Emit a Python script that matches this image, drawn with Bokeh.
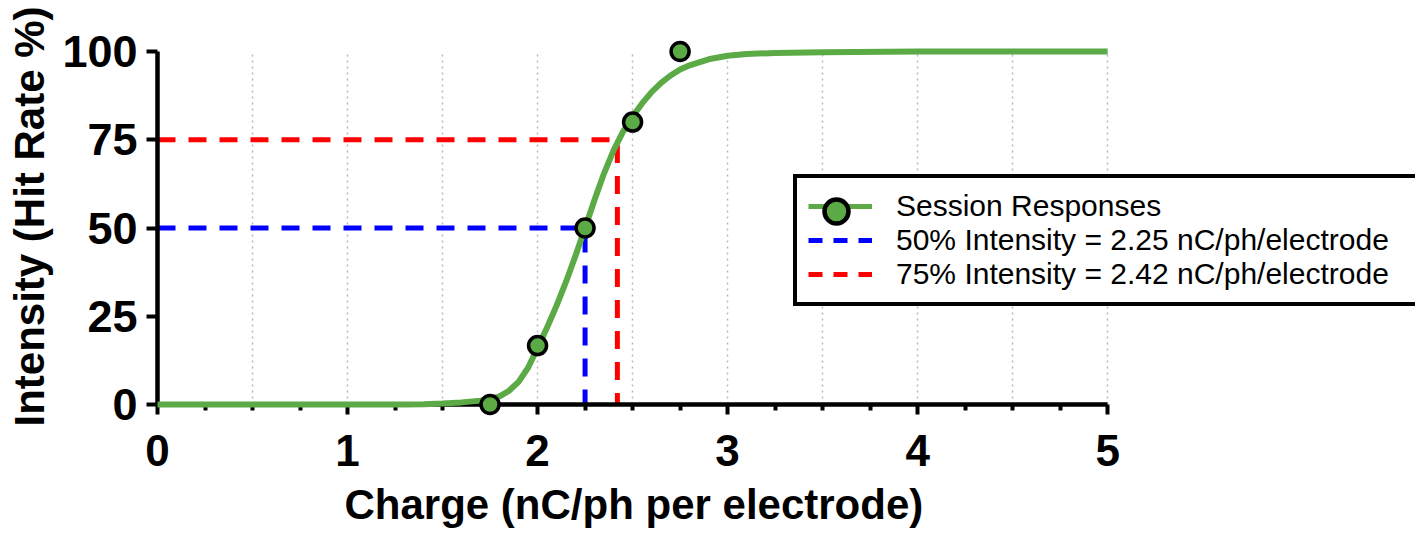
from bokeh.plotting import figure
from bokeh.models import Range1d, FixedTicker, Legend, LegendItem, Title
from bokeh.embed import file_html
from bokeh.resources import INLINE

NAN = float("nan")

# ---- data ----
resp_x = [1.75, 2.0, 2.25, 2.5, 2.75]
resp_y = [0.0, 16.7, 50.0, 80.0, 100.0]

fit_x = [0.0, 1.0, 1.3, 1.4, 1.5, 1.6, 1.7, 1.75, 1.8, 1.85, 1.9, 1.95, 2.0,
         2.05, 2.1, 2.15, 2.2, 2.25, 2.3, 2.35, 2.4, 2.45, 2.5, 2.55, 2.6,
         2.65, 2.7, 2.75, 2.8, 2.9, 3.0, 3.1, 3.25, 3.5, 4.0, 5.0]
fit_y = [0.0, 0.0, 0.0, 0.1, 0.3, 0.6, 1.1, 1.6, 2.3, 3.9, 6.4, 10.4, 16.0,
         21.8, 28.0, 34.8, 42.2, 50.0, 58.0, 65.5, 72.0, 77.3, 81.6, 85.3, 88.5,
         91.1, 93.2, 94.9, 96.1, 97.8, 98.8, 99.3, 99.6, 99.8, 100.0, 100.0]

x50, y50 = 2.25, 50.0
x75, y75 = 2.42, 75.0

x_ticks = [0, 1, 2, 3, 4, 5]
x_minor = [0.25, 0.5, 0.75, 1.25, 1.5, 1.75, 2.25, 2.5, 2.75,
           3.25, 3.5, 3.75, 4.25, 4.5, 4.75]
x_grid = [0.5, 1.0, 1.5, 2.0, 2.5, 3.0, 3.5, 4.0, 4.5, 5.0]
y_ticks = [0, 25, 50, 75, 100]

label_resp = "Session Responses"
label_50 = "50% Intensity = 2.25 nC/ph/electrode"
label_75 = "75% Intensity = 2.42 nC/ph/electrode"
x_title = "Charge (nC/ph per electrode)"
y_title = "Intensity (Hit Rate %)"

GREEN = "#5BAA46"
BLUE = "#0000FF"
RED = "#FF0000"
FONT = "Liberation Sans"

# frame extends past x=5 so that the legend (which overhangs the axis) is not clipped
X_VIEW_END = 6.62

p = figure(width=1415, height=541, output_backend="svg", toolbar_location=None,
           x_range=Range1d(0, X_VIEW_END), y_range=Range1d(0, 100),
           min_border_left=156, min_border_right=0,
           min_border_top=51, min_border_bottom=137)
p.outline_line_color = None
p.background_fill_color = "white"

# grid
p.ygrid.visible = False
p.xgrid.ticker = FixedTicker(ticks=x_grid)
p.xgrid.grid_line_color = "#b8b8b8"
p.xgrid.grid_line_width = 1.5
p.xgrid.grid_line_dash = "2 4"

# x axis
xa = p.xaxis[0]
xa.ticker = FixedTicker(ticks=x_ticks, minor_ticks=x_minor)
xa.bounds = (0, 5)
xa.axis_line_width = 4.5
xa.axis_line_color = "black"
xa.major_tick_line_width = 4
xa.minor_tick_line_width = 4
xa.major_tick_out = 10
xa.major_tick_in = 0
xa.minor_tick_out = 6
xa.minor_tick_in = 0
xa.major_label_text_font = FONT
xa.major_label_text_font_style = "bold"
xa.major_label_text_font_size = "44px"
xa.major_label_text_color = "black"
xa.major_label_standoff = 20

xt = Title(text=x_title, align="left", offset=187, standoff=24,
           vertical_align="top",
           text_font=FONT, text_font_style="bold", text_font_size="42px",
           text_color="black")
p.add_layout(xt, "below")

# y axis
ya = p.yaxis[0]
ya.ticker = FixedTicker(ticks=y_ticks, minor_ticks=[])
ya.bounds = (0, 100)
ya.axis_line_width = 4.5
ya.axis_line_color = "black"
ya.major_tick_line_width = 4
ya.major_tick_out = 11
ya.major_tick_in = 0
ya.minor_tick_out = 0
ya.minor_tick_in = 0
ya.major_label_text_font = FONT
ya.major_label_text_font_style = "bold"
ya.major_label_text_font_size = "45px"
ya.major_label_text_color = "black"
ya.major_label_standoff = 9

yt = Title(text=y_title, align="left", offset=-22, standoff=10,
           vertical_align="top",
           text_font=FONT, text_font_style="bold", text_font_size="42px",
           text_color="black")
p.add_layout(yt, "left")

# reference dashed lines (50% and 75%)
p.line([0, x50, x50], [y50, y50, 0], line_color=BLUE, line_width=5,
       line_dash="18 13")
p.line([0, x75, x75], [y75, y75, 0], line_color=RED, line_width=5,
       line_dash="18 13")

# fitted curve and responses (above the axes)
p.line(fit_x, fit_y, line_color=GREEN, line_width=6, level="overlay")
p.scatter(resp_x, resp_y, size=18, fill_color=GREEN, line_color="black",
          line_width=3.5, level="overlay")

# legend-only renderers (NaN data, nothing drawn in the plot)
lg_line = p.line(x=[NAN], y=[NAN], line_color=GREEN, line_width=5)
lg_mark = p.scatter(x=[NAN], y=[NAN], fill_color=GREEN, line_color="black",
                    line_width=4.5)
lg_50 = p.line(x=[NAN], y=[NAN], line_color=BLUE, line_width=5, line_dash="14 11")
lg_75 = p.line(x=[NAN], y=[NAN], line_color=RED, line_width=5, line_dash="14 11")

legend = Legend(items=[LegendItem(label=label_resp, renderers=[lg_line]),
                       LegendItem(label=label_50, renderers=[lg_50]),
                       LegendItem(label=label_75, renderers=[lg_75])],
                location=(636, 98))
legend.label_text_font = FONT
legend.label_text_font_size = "30px"
legend.label_text_color = "black"
legend.glyph_width = 64
legend.glyph_height = 32
legend.label_height = 32
legend.label_width = 515
legend.label_standoff = 24
legend.spacing = 0
legend.padding = 11
legend.margin = 0
legend.border_line_color = "black"
legend.border_line_alpha = 1.0
legend.border_line_width = 4.5
legend.background_fill_color = "white"
legend.background_fill_alpha = 1.0
p.add_layout(legend)

legend2 = Legend(items=[LegendItem(label=" ", renderers=[lg_mark])],
                 location=(647, 163))
legend2.glyph_width = 64
legend2.glyph_height = 60
legend2.label_height = 60
legend2.label_standoff = 0
legend2.label_text_font_size = "2px"
legend2.padding = 0
legend2.margin = 0
legend2.spacing = 0
legend2.border_line_color = None
legend2.background_fill_alpha = 0.0
p.add_layout(legend2)

open("out.html", "w").write(file_html(p, INLINE))
